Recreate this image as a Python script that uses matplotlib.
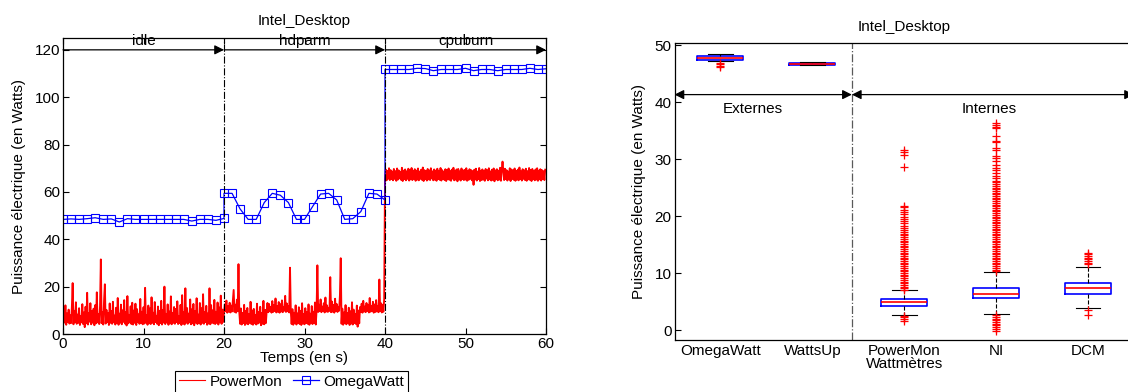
import numpy as np
import matplotlib
matplotlib.use("Agg")
import matplotlib.pyplot as plt
from matplotlib.lines import Line2D

plt.rcParams['font.family'] = ['Liberation Sans', 'DejaVu Sans']
plt.rcParams['font.size'] = 11

# ---------------- left panel: time series per phase ----------------
phase_names = ["idle", "hdparm", "cpuburn"]
phase_starts = [0, 20, 40]
phase_length = 20

# OmegaWatt, one sample per second (W)
omega_idle = [48.4, 48.6, 48.4, 48.7, 49.1, 48.4, 48.6, 47.3, 48.7, 48.4, 48.4,
              48.4, 48.4, 48.4, 48.4, 48.4, 47.7, 48.4, 48.4, 48.0, 48.8]
omega_hdparm = [59.4, 59.4, 52.8, 48.4, 48.4, 55.5, 59.4, 58.6, 55.5, 48.4, 48.4,
                53.8, 59.1, 59.4, 56.6, 48.4, 48.7, 51.7, 59.4, 59.1, 56.6]
omega_cpuburn = [111.7, 111.7, 111.7, 111.7, 112.2, 112.1, 111.2, 111.7, 111.7, 111.7, 112.2,
                 111.2, 111.7, 111.7, 111.2, 111.7, 111.7, 111.7, 112.2, 111.7, 112.0]

# PowerMon, one sample every 0.1 s (W)
powermon_step = 0.1
powermon_idle = [
    4.2, 9.5, 4.8, 12.1, 3.9, 8.7, 5.1, 10.3, 4.4, 7.9,
    4.6, 11.2, 21.5, 4.1, 9.8, 5.0, 13.4, 4.3, 8.2, 4.7,
    10.9, 3.8, 7.6, 4.9, 12.6, 4.2, 9.1, 2.9, 11.5, 4.5,
    17.4, 4.0, 8.8, 5.2, 13.0, 4.1, 9.6, 4.8, 10.7, 3.7,
    12.2, 4.5, 17.6, 4.9, 8.4, 4.2, 11.8, 31.5, 4.6, 9.3,
    4.0, 14.1, 21.0, 4.4, 10.2, 5.0, 8.9, 3.8, 12.9, 4.7,
    9.7, 4.3, 13.6, 4.9, 7.8, 4.0, 11.1, 4.6, 15.2, 3.9,
    8.6, 4.8, 12.4, 4.1, 10.0, 5.1, 14.3, 4.4, 9.2, 3.6,
    16.0, 4.5, 8.1, 4.9, 11.7, 4.2, 13.2, 4.0, 9.9, 4.7,
    12.8, 3.8, 10.5, 5.0, 8.3, 4.3, 14.8, 4.6, 9.4, 4.1,
    11.3, 4.4, 19.5, 4.8, 8.0, 3.9, 12.0, 4.5, 10.8, 4.2,
    15.5, 4.7, 9.0, 4.1, 13.5, 5.0, 7.7, 4.3, 11.6, 3.7,
    9.8, 4.6, 14.0, 4.0, 10.1, 4.8, 20.0, 4.2, 8.5, 4.9,
    12.5, 3.9, 9.5, 4.5, 15.9, 4.1, 8.8, 4.7, 11.4, 4.3,
    10.6, 5.0, 13.8, 4.2, 7.5, 4.6, 12.3, 3.8, 16.4, 4.4,
    9.1, 4.0, 19.3, 4.8, 11.0, 4.3, 8.6, 4.9, 14.6, 4.1,
    10.4, 4.5, 12.7, 3.7, 9.6, 4.8, 15.1, 4.2, 8.2, 4.6,
    13.1, 4.0, 10.9, 4.7, 16.8, 4.3, 9.3, 5.0, 11.9, 3.9,
    8.7, 4.4, 19.3, 4.1, 12.2, 4.8, 10.0, 4.5, 14.4, 4.2,
    9.4, 4.7, 13.3, 4.0, 11.2, 4.9, 16.2, 4.3, 10.3, 5.1,
]
powermon_hdparm = [
    9.2, 12.5, 9.6, 14.1, 9.0, 11.8, 9.4, 13.2, 9.1, 12.0,
    9.5, 13.8, 18.6, 9.3, 12.4, 9.0, 14.5, 9.6, 29.5, 9.2,
    4.3, 10.8, 4.0, 8.9, 4.6, 12.3, 3.8, 9.7, 4.4, 11.0,
    4.1, 8.5, 4.7, 13.6, 4.2, 9.9, 3.9, 10.6, 4.5, 8.1,
    4.0, 12.8, 4.4, 9.3, 4.8, 11.5, 3.7, 8.8, 4.3, 14.0,
    4.1, 10.2, 4.6, 9.5, 13.1, 9.2, 12.7, 9.6, 11.4, 9.0,
    13.9, 9.3, 12.2, 9.7, 15.0, 9.1, 11.9, 9.4, 13.5, 9.0,
    12.6, 9.5, 14.2, 9.2, 11.3, 9.8, 16.1, 9.3, 12.9, 9.6,
    11.7, 9.1, 28.0, 9.4, 4.2, 10.5, 3.9, 9.0, 4.5, 12.1,
    4.0, 8.7, 4.6, 11.3, 4.2, 9.8, 3.8, 13.0, 4.4, 8.4,
    4.1, 10.9, 4.7, 9.2, 4.3, 12.5, 3.9, 8.6, 4.5, 11.8,
    4.2, 9.4, 4.6, 13.3, 4.0, 10.0, 29.0, 9.3, 12.4, 9.6,
    14.6, 9.2, 11.6, 9.8, 13.0, 9.1, 15.4, 9.5, 12.1, 9.3,
    11.0, 9.7, 24.0, 9.2, 13.7, 9.4, 12.3, 9.0, 14.9, 9.6,
    12.7, 9.3, 11.5, 9.8, 16.3, 32.0, 4.3, 10.7, 3.9, 9.1,
    4.5, 12.2, 4.1, 8.8, 4.7, 11.1, 3.8, 9.6, 4.4, 13.4,
    4.0, 10.3, 4.6, 8.5, 4.2, 12.0, 3.1, 9.9, 4.5, 11.4,
    9.3, 12.8, 9.0, 14.0, 9.5, 11.6, 9.2, 13.1, 9.7, 12.2,
    9.1, 15.2, 9.4, 11.9, 9.6, 13.6, 9.0, 12.5, 9.3, 14.3,
    9.5, 11.8, 9.2, 23.0, 9.7, 13.0, 9.1, 12.4, 9.4, 14.8,
]
powermon_cpuburn = [
    65.2, 69.4, 64.9, 68.9, 65.6, 70.0, 65.0, 69.2, 65.4, 68.6,
    64.9, 69.7, 65.5, 68.8, 64.7, 69.9, 65.2, 69.1, 65.7, 68.5,
    65.1, 70.2, 64.6, 69.0, 65.4, 69.5, 64.9, 68.7, 65.5, 69.8,
    64.8, 69.3, 65.3, 70.1, 65.0, 68.9, 65.6, 69.6, 64.7, 69.0,
    65.2, 69.9, 64.9, 68.6, 65.5, 69.4, 65.1, 70.3, 64.6, 69.2,
    65.4, 68.8, 64.8, 69.7, 65.3, 69.1, 65.0, 70.0, 65.7, 68.7,
    64.9, 69.5, 65.2, 69.0, 64.7, 69.8, 65.5, 68.9, 65.1, 70.1,
    64.8, 69.2, 65.4, 68.6, 65.0, 69.6, 64.6, 69.3, 65.3, 69.9,
    65.1, 68.8, 64.7, 69.4, 65.6, 70.2, 64.9, 69.0, 65.2, 69.5,
    64.5, 69.7, 65.3, 68.7, 64.8, 69.9, 65.4, 69.1, 65.0, 69.3,
    65.2, 70.0, 64.7, 68.9, 65.1, 69.6, 65.5, 69.2, 64.9, 68.8,
    63.0, 69.4, 65.3, 69.8, 64.8, 68.6, 65.4, 70.1, 64.6, 69.0,
    65.0, 69.5, 65.2, 68.9, 64.7, 69.7, 65.6, 69.2, 64.9, 70.0,
    65.3, 68.7, 64.8, 69.4, 65.1, 69.9, 64.5, 69.1, 65.4, 69.6,
    64.9, 69.0, 65.2, 70.2, 64.7, 69.3, 72.8, 68.8, 65.0, 69.8,
    65.4, 69.2, 64.8, 68.6, 65.3, 70.0, 64.6, 69.5, 65.5, 69.1,
    65.1, 69.9, 64.7, 68.9, 65.2, 69.4, 64.9, 70.3, 65.4, 68.7,
    64.8, 69.6, 65.5, 69.1, 65.0, 69.8, 64.7, 68.8, 65.3, 70.1,
    65.1, 69.3, 64.6, 69.7, 65.4, 68.9, 64.9, 69.5, 65.2, 70.0,
    64.7, 69.0, 65.3, 69.6, 64.8, 69.2, 65.4, 68.8, 65.0, 69.4,
]

# ---------------- right panel: box statistics per wattmeter ----------------
meters = ["OmegaWatt", "WattsUp", "PowerMon", "NI", "DCM"]
box_med = [47.8, 46.72, 4.84, 6.32, 7.38]
box_q1 = [47.45, 46.55, 4.25, 5.61, 6.26]
box_q3 = [48.0, 46.9, 5.42, 7.39, 8.26]
box_whislo = [47.15, 46.5, 2.65, 2.82, 3.84]
box_whishi = [48.5, 46.95, 6.97, 10.2, 11.03]
fliers_omegawatt = [46.2, 46.4, 46.6, 46.9]
fliers_wattsup = []
fliers_powermon = [1.6, 1.9, 2.2, 2.5,
                   7.0, 7.3, 7.6, 7.9, 8.2, 8.5, 8.8, 9.1, 9.4, 9.7, 10.0,
                   10.3, 10.6, 10.9, 11.2, 11.5, 11.8, 12.1, 12.4, 12.7, 13.0,
                   13.3, 13.6, 13.9, 14.2, 14.5, 14.8, 15.1, 15.4, 15.7, 16.0,
                   16.3, 16.6, 16.9, 17.2, 17.5, 17.9, 18.3, 18.7, 19.1, 19.5,
                   19.9, 20.3, 20.7, 21.1, 21.5, 21.8,
                   28.6, 30.7, 31.2, 31.6]
fliers_ni = [-0.1, 0.2, 0.5, 0.8, 1.1, 1.4, 1.7, 2.0, 2.3, 2.6,
             10.3, 10.6, 10.9, 11.2, 11.5, 11.8, 12.1, 12.4, 12.7, 13.0,
             13.3, 13.6, 13.9, 14.2, 14.5, 14.8, 15.1, 15.4, 15.7, 16.0,
             16.3, 16.6, 16.9, 17.2, 17.5, 17.8, 18.1, 18.4, 18.7, 19.0,
             19.3, 19.6, 19.9, 20.2, 20.5, 20.8, 21.1, 21.4, 21.7, 22.0,
             22.3, 22.6, 22.9, 23.2, 23.5, 23.8, 24.1, 24.4, 24.7, 25.0,
             25.3, 25.6, 25.9, 26.2, 26.6, 27.0,
             27.5, 28.0, 28.5, 29.0, 29.7, 30.1, 30.6, 31.5, 32.0, 32.9,
             33.2, 34.0, 35.4, 35.6, 36.0, 36.3]
fliers_dcm = [2.6, 3.5, 11.5, 11.8, 12.1, 12.4, 12.7, 13.0, 13.3, 13.6]
section_names = ["Externes", "Internes"]

ylabel = "Puissance électrique (en Watts)"
title = "Intel_Desktop"

W, H = 1128, 392
fig = plt.figure(figsize=(W / 100, H / 100), dpi=100)

# ---------------- left panel ----------------
ax1 = fig.add_axes([63 / W, 1 - 334 / H, 483 / W, 296 / H])

pm_series = [powermon_idle, powermon_hdparm, powermon_cpuburn]
ow_series = [omega_idle, omega_hdparm, omega_cpuburn]
pm_t = np.concatenate([s + np.arange(len(v)) * powermon_step
                       for s, v in zip(phase_starts, pm_series)])
pm_v = np.concatenate(pm_series)
ow_t = np.concatenate([s + np.arange(len(v)) for s, v in zip(phase_starts, ow_series)])
ow_v = np.concatenate(ow_series)

ax1.plot(pm_t, pm_v, color='red', lw=1.35)
ax1.plot(ow_t, ow_v, color='blue', lw=0.9, marker='s', markersize=5.3,
         markerfacecolor='none', markeredgecolor='blue', markeredgewidth=0.8)

ax1.set_xlim(0, 60)
ax1.set_ylim(0, 125)
ax1.set_xticks(np.arange(0, 61, 10))
ax1.set_yticks(np.arange(0, 121, 20))
ax1.tick_params(direction='in', top=True, right=True, length=4, width=0.8, pad=2)
for sp in ax1.spines.values():
    sp.set_linewidth(0.9)

for s in phase_starts[1:]:
    ax1.axvline(s, color='k', ls='-.', lw=0.8)
for name, s in zip(phase_names, phase_starts):
    ax1.annotate('', xy=(s + phase_length, 120), xytext=(s, 120),
                 arrowprops=dict(arrowstyle='-|>', color='k', lw=0.9,
                                 shrinkA=0, shrinkB=0, mutation_scale=14))
    ax1.text(s + phase_length / 2, 122, name, ha='center', va='baseline')

ax1.set_title(title, pad=9, fontsize=11)
ax1.set_xlabel("Temps (en s)", labelpad=0)
ax1.set_ylabel(ylabel, labelpad=6)

handles = [Line2D([], [], color='red', lw=0.8),
           Line2D([], [], color='blue', lw=0.9, marker='s', markersize=5.3,
                  markerfacecolor='none', markeredgecolor='blue', markeredgewidth=0.8)]
leg = fig.legend(handles, ["PowerMon", "OmegaWatt"], loc='upper center',
                 bbox_to_anchor=(291.5 / W, 1 - 371 / H), ncol=2, frameon=True,
                 fancybox=False, edgecolor='k', framealpha=1, borderpad=0.25,
                 handlelength=1.7, handletextpad=0.3, columnspacing=0.7,
                 borderaxespad=0)
leg.get_frame().set_linewidth(0.8)

# ---------------- right panel ----------------
ax2 = fig.add_axes([674.5 / W, 1 - 340 / H, 459.5 / W, 296.7 / H])

all_fliers = [fliers_omegawatt, fliers_wattsup, fliers_powermon, fliers_ni, fliers_dcm]
stats = []
for i, m in enumerate(meters):
    stats.append(dict(label=m, med=box_med[i], q1=box_q1[i], q3=box_q3[i],
                      whislo=box_whislo[i], whishi=box_whishi[i],
                      fliers=all_fliers[i]))
positions = np.arange(1, len(meters) + 1)
ax2.bxp(stats, positions=positions, widths=0.5, capwidths=0.27,
        showfliers=True, manage_ticks=False,
        boxprops=dict(color='blue', lw=1.2),
        medianprops=dict(color='red', lw=1.2),
        whiskerprops=dict(color='k', ls='--', lw=0.8),
        capprops=dict(color='k', lw=0.8),
        flierprops=dict(marker='+', markeredgecolor='red', markersize=6,
                        markeredgewidth=0.9, linestyle='none'))

split = 2.43
ax2.set_xlim(0.5, 5.5)
ax2.set_ylim(-1.75, 50.3)
ax2.set_xticks(positions)
ax2.set_xticklabels(meters)
ax2.set_yticks(np.arange(0, 51, 10))
ax2.tick_params(axis='y', direction='in', length=4, width=0.8, pad=2, right=True)
ax2.tick_params(axis='x', length=0, pad=3)
for sp in ax2.spines.values():
    sp.set_linewidth(0.9)

ax2.axvline(split, color=(0.35, 0.35, 0.35), ls='-.', lw=0.9)
for x0, x1 in [(0.5, split), (split, 5.5)]:
    ax2.annotate('', xy=(x1, 41.3), xytext=(x0, 41.3),
                 arrowprops=dict(arrowstyle='<|-|>', color='k', lw=0.9,
                                 shrinkA=0, shrinkB=0, mutation_scale=14))
ax2.text(1.35, 38.8, section_names[0], ha='center', va='center')
ax2.text(3.92, 38.8, section_names[1], ha='center', va='center')

ax2.set_title(title, pad=9, fontsize=11)
ax2.set_xlabel("Wattmètres", labelpad=-1)
ax2.set_ylabel(ylabel, labelpad=6)

fig.savefig("out.png", dpi=100)
